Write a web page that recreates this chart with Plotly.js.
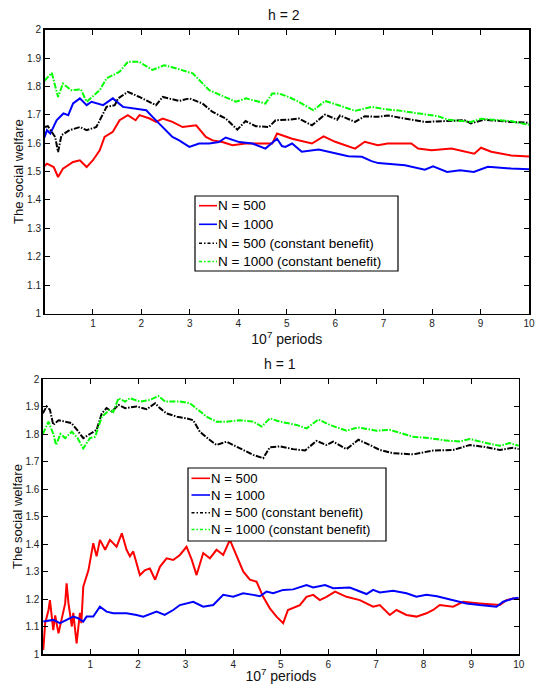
<!DOCTYPE html>
<html>
<head>
<meta charset="utf-8">
<script src="https://cdn.plot.ly/plotly-3.0.1.min.js"></script>
<style>html,body{margin:0;padding:0;background:#fff;}#chart{width:535px;height:684px;}</style>
</head>
<body>
<div id="chart"></div>
<script>
// ---------- h = 2 (top panel) ----------
const red2_x = [0,0.05,0.19,0.28,0.38,0.59,0.73,0.87,1.0,1.14,1.24,1.41,1.55,1.72,1.88,1.96,2.17,2.30,2.44,2.64,2.85,3.13,3.33,3.47,3.67,3.88,4.15,4.42,4.70,4.80,5.04,5.11,5.52,5.76,6.0,6.41,6.61,6.88,7.08,7.57,7.71,7.99,8.40,8.67,8.87,9.01,9.22,9.63,10];
const red2_y = [1.52,1.528,1.516,1.481,1.51,1.534,1.54,1.516,1.54,1.575,1.622,1.64,1.681,1.699,1.681,1.699,1.687,1.675,1.687,1.675,1.657,1.663,1.622,1.61,1.604,1.593,1.599,1.599,1.599,1.634,1.622,1.616,1.599,1.624,1.605,1.581,1.605,1.593,1.599,1.599,1.581,1.575,1.581,1.57,1.563,1.584,1.57,1.557,1.553];

const blue2_x = [0,0.05,0.12,0.25,0.39,0.49,0.59,0.73,0.87,0.97,1.21,1.41,1.62,1.89,2.10,2.23,2.44,2.64,2.78,2.99,3.19,3.40,3.60,3.74,4.02,4.29,4.56,4.80,4.90,4.97,5.11,5.31,5.66,6.07,6.27,6.55,6.75,6.89,7.44,7.85,8.02,8.31,8.58,8.86,9.15,9.63,10];
const blue2_y = [1.62,1.646,1.634,1.681,1.705,1.699,1.74,1.758,1.734,1.746,1.734,1.758,1.728,1.722,1.716,1.693,1.657,1.622,1.61,1.587,1.599,1.599,1.604,1.62,1.604,1.599,1.581,1.616,1.59,1.587,1.599,1.57,1.578,1.561,1.554,1.552,1.537,1.53,1.522,1.507,1.519,1.499,1.505,1.499,1.517,1.511,1.508];

const black2_x = [0,0.07,0.22,0.28,0.35,0.52,0.73,0.87,1.07,1.14,1.28,1.45,1.52,1.72,1.96,2.30,2.44,2.78,2.99,3.26,3.47,3.74,3.98,4.15,4.36,4.63,4.77,5.04,5.25,5.52,5.79,6.04,6.10,6.41,6.61,6.88,7.08,7.57,7.85,8.26,8.67,8.80,9.08,9.63,10];
const black2_y = [1.657,1.66,1.622,1.569,1.628,1.646,1.657,1.646,1.657,1.681,1.728,1.734,1.758,1.781,1.763,1.734,1.763,1.749,1.758,1.74,1.71,1.687,1.648,1.678,1.66,1.657,1.681,1.683,1.687,1.663,1.701,1.683,1.698,1.675,1.695,1.693,1.698,1.683,1.675,1.678,1.681,1.67,1.683,1.675,1.672];

const green2_x = [0,0.15,0.28,0.38,0.55,0.75,0.87,1.14,1.28,1.55,1.72,1.95,2.23,2.47,2.71,3.06,3.40,3.64,3.95,4.16,4.56,4.70,4.84,5.04,5.25,5.55,5.79,6.07,6.41,6.75,7.02,7.37,7.71,8.12,8.33,8.80,9.01,9.63,9.93,10];
const green2_y = [1.82,1.848,1.763,1.81,1.787,1.79,1.746,1.787,1.828,1.852,1.887,1.887,1.858,1.875,1.864,1.846,1.787,1.769,1.746,1.758,1.74,1.775,1.775,1.763,1.746,1.716,1.749,1.734,1.714,1.728,1.72,1.714,1.705,1.695,1.683,1.675,1.686,1.678,1.667,1.665];

// ---------- h = 1 (bottom panel) ----------
const red1_x = [0.01,0.05,0.12,0.15,0.22,0.26,0.33,0.40,0.47,0.50,0.54,0.61,0.64,0.71,0.78,0.81,0.85,0.96,1.06,1.13,1.20,1.31,1.41,1.55,1.66,1.76,1.83,1.90,2.04,2.15,2.25,2.36,2.46,2.60,2.74,2.88,3.02,3.13,3.23,3.37,3.51,3.65,3.79,3.93,4.07,4.21,4.35,4.49,4.63,4.77,4.91,5.02,5.05,5.15,5.40,5.54,5.68,5.82,5.96,6.14,6.38,6.66,6.94,7.08,7.29,7.43,7.64,7.85,8.06,8.20,8.34,8.62,8.83,9.18,9.60,9.74,9.88,10];
const red1_y = [1.015,1.112,1.16,1.196,1.087,1.14,1.075,1.13,1.184,1.257,1.184,1.10,1.15,1.039,1.15,1.112,1.245,1.305,1.403,1.355,1.415,1.379,1.415,1.39,1.439,1.379,1.355,1.373,1.287,1.305,1.311,1.27,1.317,1.348,1.342,1.36,1.39,1.342,1.287,1.367,1.348,1.379,1.36,1.415,1.354,1.30,1.27,1.263,1.208,1.166,1.136,1.118,1.112,1.16,1.178,1.208,1.215,1.196,1.208,1.227,1.208,1.196,1.172,1.178,1.142,1.16,1.142,1.136,1.148,1.16,1.178,1.172,1.19,1.184,1.178,1.196,1.202,1.20];

const blue1_x = [0.01,0.22,0.36,0.50,0.64,0.74,0.85,0.92,1.06,1.20,1.34,1.48,1.76,1.97,2.11,2.39,2.56,2.74,2.88,3.16,3.37,3.58,3.79,4.0,4.21,4.42,4.56,4.70,4.84,5.05,5.26,5.54,5.68,5.93,6.10,6.45,6.80,6.94,7.08,7.36,7.64,7.85,8.06,8.28,8.48,8.62,8.90,9.18,9.53,9.67,9.88,10];
const blue1_y = [1.118,1.124,1.112,1.124,1.136,1.13,1.118,1.136,1.136,1.172,1.154,1.148,1.148,1.142,1.136,1.154,1.142,1.16,1.178,1.19,1.172,1.178,1.215,1.208,1.221,1.215,1.21,1.227,1.221,1.233,1.235,1.251,1.242,1.251,1.239,1.242,1.218,1.233,1.224,1.23,1.221,1.208,1.215,1.21,1.202,1.196,1.184,1.178,1.172,1.19,1.202,1.205];

const black1_x = [0,0.08,0.15,0.22,0.33,0.50,0.60,0.72,0.85,0.99,1.13,1.24,1.34,1.45,1.59,1.73,1.97,2.18,2.36,2.46,2.60,2.82,3.02,3.16,3.30,3.51,3.65,3.86,4.14,4.42,4.63,4.77,4.98,5.26,5.51,5.75,5.96,6.10,6.38,6.63,6.87,7.08,7.36,7.78,8.20,8.62,8.97,9.32,9.60,9.88,10];
const black1_y = [1.875,1.90,1.888,1.833,1.85,1.845,1.84,1.815,1.785,1.80,1.815,1.875,1.894,1.882,1.906,1.894,1.90,1.89,1.912,1.894,1.875,1.863,1.857,1.85,1.808,1.778,1.76,1.772,1.748,1.724,1.712,1.752,1.755,1.745,1.74,1.775,1.76,1.772,1.745,1.779,1.76,1.742,1.73,1.726,1.74,1.742,1.76,1.752,1.742,1.75,1.745];

const green1_x = [0,0.12,0.22,0.28,0.37,0.47,0.61,0.73,0.85,0.99,1.10,1.24,1.41,1.48,1.59,1.73,1.83,2.04,2.25,2.43,2.57,2.88,3.09,3.27,3.44,3.65,3.86,4.14,4.42,4.60,4.77,4.98,5.33,5.54,5.79,6.03,6.38,6.62,7.01,7.29,7.57,7.78,8.13,8.48,8.76,8.97,9.32,9.60,9.81,10];
const green1_y = [1.80,1.845,1.80,1.76,1.80,1.785,1.808,1.785,1.748,1.785,1.79,1.863,1.888,1.88,1.93,1.918,1.93,1.918,1.924,1.938,1.918,1.918,1.912,1.887,1.863,1.845,1.845,1.85,1.845,1.827,1.857,1.845,1.833,1.82,1.853,1.833,1.812,1.824,1.812,1.815,1.80,1.79,1.785,1.776,1.773,1.782,1.767,1.757,1.767,1.757];

const names = ['N = 500', 'N = 1000', 'N = 500 (constant benefit)', 'N = 1000 (constant benefit)'];
const colors = ['#ff0000', '#0000ff', '#000000', '#00ff00'];
const ytickvals = [1,1.1,1.2,1.3,1.4,1.5,1.6,1.7,1.8,1.9,2];
const yticktext = ['1','1.1','1.2','1.3','1.4','1.5','1.6','1.7','1.8','1.9','2'];
const xtickvals = [1,2,3,4,5,6,7,8,9,10];
const xticktext = ['1','2','3','4','5','6','7','8','9','10'];

const FONT = 'Arial, "Liberation Sans", sans-serif';
const W = 535, H = 684;
const plotDash = ['solid','solid','6px,1.5px,1.5px,1.5px','6px,1.5px,1.5px,1.5px'];
const legDash = ['solid','solid','3px,2px,1.5px,2px','3px,2px,1.5px,2px'];

function mk(x, y, i, panel) {
  return {
    x: x, y: y, type: 'scatter', mode: 'lines', name: names[i],
    line: {color: colors[i], width: 2, dash: plotDash[i]},
    xaxis: panel === 1 ? 'x' : 'x2', yaxis: panel === 1 ? 'y' : 'y2',
    showlegend: false, hoverinfo: 'skip'
  };
}

const data = [
  mk(red2_x, red2_y, 0, 1), mk(blue2_x, blue2_y, 1, 1), mk(black2_x, black2_y, 2, 1), mk(green2_x, green2_y, 3, 1),
  mk(red1_x, red1_y, 0, 2), mk(blue1_x, blue1_y, 1, 2), mk(black1_x, black1_y, 2, 2), mk(green1_x, green1_y, 3, 2)
];

function xax(domain, anchor) {
  return {
    domain: domain, anchor: anchor, range: [0, 10], tickvals: xtickvals, ticktext: xticktext,
    ticks: 'inside', ticklen: 5, tickcolor: '#000', showline: true, linecolor: '#000', linewidth: 1.5,
    mirror: 'ticks', showgrid: false, zeroline: false, ticklabeloverflow: 'allow',
    tickfont: {family: FONT, size: 10, color: '#222'},
    title: {text: '10<sup>7</sup> periods', font: {family: FONT, size: 14, color: '#111'}, standoff: 2}
  };
}
function yax(domain, anchor) {
  return {
    domain: domain, anchor: anchor, range: [1, 2], tickvals: ytickvals, ticktext: yticktext,
    ticks: 'inside', ticklen: 5, tickcolor: '#000', showline: true, linecolor: '#000', linewidth: 1.5,
    mirror: 'ticks', showgrid: false, zeroline: false, ticklabeloverflow: 'allow',
    tickfont: {family: FONT, size: 10, color: '#222'},
    title: {text: 'The social welfare', font: {family: FONT, size: 13, color: '#111'}, standoff: 0}
  };
}

// Legend boxes (MATLAB-style, compact rows) built as paper shapes + text
const legends = [
  {left: 195, right: 398, top: 196, bottom: 271, rows: [205.7, 224.3, 243.3, 261.5], lx0: 199, lx1: 217, tx: 217, fs: 13.5},
  {left: 188, right: 386, top: 468, bottom: 541, rows: [478.3, 495, 512.7, 529.5], lx0: 191.5, lx1: 210, tx: 210, fs: 13.2}
];
const shapes = [];
const annotations = [
  {text: 'h = 2', x: 284/W, y: 1-15/H, xref: 'paper', yref: 'paper', showarrow: false,
   font: {family: FONT, size: 14, color: '#111'}, xanchor: 'center', yanchor: 'middle'},
  {text: 'h = 1', x: 280/W, y: 1-364/H, xref: 'paper', yref: 'paper', showarrow: false,
   font: {family: FONT, size: 14, color: '#111'}, xanchor: 'center', yanchor: 'middle'}
];
legends.forEach(function (L) {
  shapes.push({type: 'rect', xref: 'paper', yref: 'paper', x0: L.left/W, x1: L.right/W, y0: 1-L.bottom/H, y1: 1-L.top/H,
               line: {color: '#000', width: 1.2}, fillcolor: '#fff', layer: 'above'});
  names.forEach(function (nm, i) {
    const yy = 1 - L.rows[i]/H;
    shapes.push({type: 'line', xref: 'paper', yref: 'paper', x0: L.lx0/W, x1: L.lx1/W, y0: yy, y1: yy,
                 line: {color: colors[i], width: 1.6, dash: legDash[i]}, layer: 'above'});
    annotations.push({text: nm, x: L.tx/W, y: yy, xref: 'paper', yref: 'paper', showarrow: false,
                      xanchor: 'left', yanchor: 'middle', font: {family: FONT, size: L.fs, color: '#000'}, borderpad: 0});
  });
});

const layout = {
  width: W, height: H,
  margin: {l: 0, r: 0, t: 0, b: 0},
  paper_bgcolor: '#fff', plot_bgcolor: '#fff',
  font: {family: FONT},
  xaxis: xax([44.5/W, 529/W], 'y'),
  yaxis: yax([1-313.5/H, 1-29.7/H], 'x'),
  xaxis2: xax([42.8/W, 518.8/W], 'y2'),
  yaxis2: yax([1-654/H, 1-379/H], 'x2'),
  shapes: shapes,
  annotations: annotations,
  showlegend: false
};

Plotly.newPlot('chart', data, layout, {staticPlot: true, displayModeBar: false});
</script>
</body>
</html>
